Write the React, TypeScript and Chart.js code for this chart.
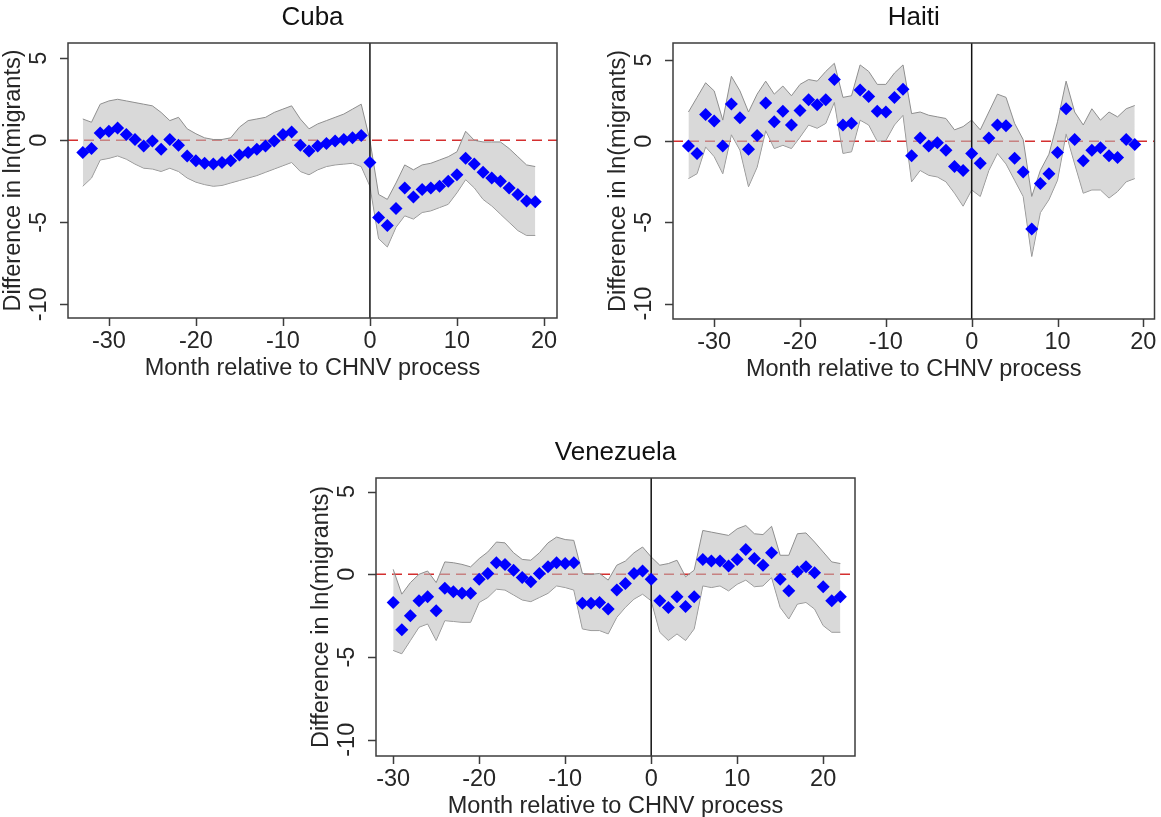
import React, { useEffect, useRef } from "react";
import { Chart, registerables } from "chart.js";

Chart.register(...registerables);

const FONT = '"Liberation Sans", Arial, Helvetica, sans-serif';

// Axis tick values shared by all panels
const xTickValues = [-30, -20, -10, 0, 10, 20];
const yTickValues = [-10, -5, 0, 5];

const xAxisTitle = "Month relative to CHNV process";
const yAxisTitle = "Difference in ln(migrants)";

// ---------- Cuba ----------
const cubaMonths = [
  -33, -32, -31, -30, -29, -28, -27, -26, -25, -24, -23, -22, -21, -20, -19, -18, -17, -16,
  -15, -14, -13, -12, -11, -10, -9, -8, -7, -6, -5, -4, -3, -2, -1, 0, 1, 2, 3, 4, 5, 6, 7,
  8, 9, 10, 11, 12, 13, 14, 15, 16, 17, 18, 19,
];
const cubaEstimate = [
  -0.75, -0.5, 0.45, 0.55, 0.75, 0.35, 0.05, -0.35, -0.05, -0.55, 0.05, -0.3, -0.95, -1.25,
  -1.4, -1.45, -1.35, -1.25, -0.9, -0.75, -0.55, -0.35, -0.05, 0.35, 0.5, -0.3, -0.65, -0.35,
  -0.2, -0.05, 0.05, 0.15, 0.3, -1.35, -4.7, -5.2, -4.15, -2.9, -3.45, -3.0, -2.9, -2.8, -2.5,
  -2.1, -1.1, -1.45, -1.95, -2.3, -2.5, -2.9, -3.3, -3.7, -3.75,
];
const cubaUpper = [
  1.3, 1.1, 2.2, 2.4, 2.5, 2.4, 2.3, 2.2, 2.1, 1.7, 1.2, 1.4, 0.7, 0.4, 0.15, 0.05, 0.05, 0.15,
  0.8, 1.2, 1.3, 1.4, 1.7, 1.9, 2.1, 1.3, 0.7, 1.0, 1.2, 1.4, 1.6, 1.9, 2.2, 0.0, -3.3, -3.6,
  -2.6, -1.5, -1.8, -1.5, -1.4, -1.2, -1.0, -0.7, 0.55, 0.0, -0.1, -0.1, -0.1, -0.5, -1.0, -1.5,
  -1.6,
];
const cubaLower = [
  -2.8, -2.3, -1.2, -1.1, -0.95, -1.15, -1.45, -1.7, -1.75, -1.9, -1.7, -1.9, -2.3, -2.55, -2.7,
  -2.8, -2.75, -2.6, -2.45, -2.3, -2.15, -1.95, -1.75, -1.55, -1.35, -1.9, -2.1, -1.8, -1.6, -1.5,
  -1.45, -1.4, -1.6, -2.8, -6.0, -6.5, -5.3, -4.6, -4.8, -4.4, -4.3, -4.1, -3.9, -3.2, -2.4, -2.9,
  -3.6, -4.0, -4.5, -5.0, -5.5, -5.8, -5.8,
];

// ---------- Haiti ----------
const haitiMonths = [
  -33, -32, -31, -30, -29, -28, -27, -26, -25, -24, -23, -22, -21, -20, -19, -18, -17, -16,
  -15, -14, -13, -12, -11, -10, -9, -8, -7, -6, -5, -4, -3, -2, -1, 0, 1, 2, 3, 4, 5, 6, 7,
  8, 9, 10, 11, 12, 13, 14, 15, 16, 17, 18, 19,
];
const haitiEstimate = [
  -0.3, -0.75, 1.65, 1.25, -0.3, 2.3, 1.45, -0.5, 0.35, 2.35, 1.2, 1.85, 1.0, 1.9, 2.55, 2.25,
  2.55, 3.8, 1.0, 1.1, 3.15, 2.75, 1.85, 1.8, 2.7, 3.2, -0.9, 0.2, -0.3, -0.1, -0.55, -1.55,
  -1.8, -0.75, -1.35, 0.2, 1.0, 0.95, -1.05, -1.9, -5.4, -2.6, -2.0, -0.7, 2.0, 0.1, -1.2,
  -0.55, -0.4, -0.9, -1.0, 0.1, -0.2,
];
const haitiUpper = [
  1.8, 2.7, 3.6, 3.1, 1.3, 4.0, 3.1, 1.8, 2.9, 3.7, 2.9, 3.4, 2.8, 3.5, 3.8, 3.7, 4.3, 4.8, 2.7,
  2.8, 4.7, 4.3, 3.5, 3.5, 4.2, 4.7, 1.7, 1.8, 1.6, 1.5, 1.4, 0.7, 0.9, 1.3, 0.7, 1.8, 2.9, 2.7,
  1.1, 0.1, -3.4, -1.8, -0.8, 1.2, 3.7, 1.8, 1.0, 2.0, 1.3, 1.8, 1.5, 2.0, 2.2,
];
const haitiLower = [
  -2.3, -2.0, -0.35, -0.95, -2.0, 0.4, -0.55, -2.8, -1.6, 0.65, -0.45, -0.25, -0.45, 0.25, 1.0,
  0.8, 1.1, 2.4, -0.75, -0.65, 1.3, 1.0, 0.0, 0.05, 1.0, 1.6, -2.5, -1.8, -2.1, -2.2, -2.5, -3.2,
  -4.0, -3.0, -3.4, -1.8, -0.75, -1.4, -2.4, -3.4, -7.1, -4.4, -3.6, -2.4, 0.45, -1.4, -3.2, -3.0,
  -3.0, -3.5, -3.1, -2.5, -2.3,
];

// ---------- Venezuela ----------
const venezuelaMonths = [
  -30, -29, -28, -27, -26, -25, -24, -23, -22, -21, -20, -19, -18, -17, -16, -15, -14, -13,
  -12, -11, -10, -9, -8, -7, -6, -5, -4, -3, -2, -1, 0, 1, 2, 3, 4, 5, 6, 7, 8, 9, 10, 11, 12,
  13, 14, 15, 16, 17, 18, 19, 20, 21, 22,
];
const venezuelaEstimate = [
  -1.7, -3.35, -2.5, -1.6, -1.35, -2.2, -0.85, -1.05, -1.15, -1.15, -0.3, 0.05, 0.7, 0.6, 0.25,
  -0.2, -0.45, 0.05, 0.45, 0.7, 0.65, 0.7, -1.75, -1.75, -1.7, -2.1, -0.95, -0.55, 0.05, 0.2,
  -0.3, -1.6, -2.0, -1.35, -1.95, -1.35, 0.9, 0.8, 0.8, 0.5, 0.9, 1.5, 0.95, 0.55, 1.3, -0.3,
  -1.0, 0.15, 0.45, 0.1, -0.75, -1.6, -1.35,
];
const venezuelaUpper = [
  0.3, -1.2, -0.5, 0.0, 0.2, -0.5, 0.75, 0.7, 0.6, 0.45, 0.95, 1.35, 1.95, 1.9, 1.3, 0.9, 0.85,
  1.3, 1.9, 2.25, 2.1, 2.05, 0.05, 0.0, 0.05, -0.35, 0.55, 0.8, 1.3, 1.65, 1.05, 0.55, 0.65,
  0.85, -0.15, 0.25, 2.65, 2.55, 2.45, 2.35, 2.75, 2.95, 2.45, 2.4, 2.9, 1.15, 1.15, 2.45, 2.5,
  1.95, 1.35, 0.75, 0.65,
];
const venezuelaLower = [
  -4.6, -4.8, -4.0, -3.2, -3.0, -4.0, -2.8, -2.85, -2.9, -2.9, -1.7, -1.4, -0.9, -0.95, -1.25,
  -1.55, -1.65, -1.4, -1.15, -0.7, -0.8, -0.95, -3.3, -3.4, -3.4, -3.6, -2.6, -2.0, -1.5, -1.2,
  -1.6, -3.5, -4.0, -3.6, -4.0, -3.3, -0.7, -0.8, -0.7, -1.0, -0.6, -0.35, -0.75, -0.7, -0.2,
  -2.0, -2.7, -1.8, -1.7, -2.1, -3.1, -3.5, -3.5,
];

type Area = { left: number; top: number; right: number; bottom: number };

type PanelProps = {
  title: string;
  months: number[];
  est: number[];
  lo: number[];
  hi: number[];
  xMin: number;
  xMax: number;
  yMin: number;
  yMax: number;
  left: number;
  top: number;
  width: number;
  height: number;
  area: Area;
};

function decorPlugin(title: string) {
  return {
    id: "panelDecor",
    afterDraw(chart: any) {
      const { ctx, chartArea, scales } = chart;
      const { left, right, top, bottom } = chartArea;
      const x = scales.x;
      const y = scales.y;
      ctx.save();

      // plot frame
      ctx.strokeStyle = "#3c3c3c";
      ctx.lineWidth = 1.5;
      ctx.strokeRect(left, top, right - left, bottom - top);

      // tick marks
      ctx.beginPath();
      for (const v of xTickValues) {
        const px = Math.round(x.getPixelForValue(v)) + 0.5;
        ctx.moveTo(px, bottom);
        ctx.lineTo(px, bottom + 8);
      }
      for (const v of yTickValues) {
        const py = Math.round(y.getPixelForValue(v)) + 0.5;
        ctx.moveTo(left - 8, py);
        ctx.lineTo(left, py);
      }
      ctx.stroke();

      ctx.fillStyle = "#262626";
      ctx.textAlign = "center";
      ctx.textBaseline = "middle";
      ctx.font = `23.5px ${FONT}`;

      // x tick labels and title
      for (const v of xTickValues) {
        ctx.fillText(String(v), x.getPixelForValue(v), bottom + 24);
      }
      ctx.fillText(xAxisTitle, (left + right) / 2, bottom + 51);

      // y tick labels (rotated)
      for (const v of yTickValues) {
        ctx.save();
        ctx.translate(left - 28, y.getPixelForValue(v));
        ctx.rotate(-Math.PI / 2);
        ctx.fillText(String(v), 0, 0);
        ctx.restore();
      }
      ctx.save();
      ctx.translate(left - 54, (top + bottom) / 2);
      ctx.rotate(-Math.PI / 2);
      ctx.fillText(yAxisTitle, 0, 0);
      ctx.restore();

      // panel title
      ctx.font = `26px ${FONT}`;
      ctx.fillStyle = "#111";
      ctx.fillText(title, (left + right) / 2, top - 25);

      ctx.restore();
    },
  };
}

function Panel(props: PanelProps) {
  const ref = useRef<HTMLCanvasElement | null>(null);

  useEffect(() => {
    const canvas = ref.current;
    if (!canvas) return;
    const { months, est, lo, hi, xMin, xMax, yMin, yMax, width, height, area } = props;

    const toXY = (vals: number[]) => months.map((m, i) => ({ x: m, y: vals[i] }));

    const chart = new Chart(canvas, {
      type: "line",
      data: {
        datasets: [
          {
            label: "estimate",
            data: toXY(est),
            showLine: false,
            pointStyle: "rectRot",
            pointRadius: 6.5,
            pointBackgroundColor: "#0000ff",
            pointBorderColor: "#0000ff",
            pointBorderWidth: 0,
          },
          {
            label: "zero month",
            data: [
              { x: 0, y: yMin },
              { x: 0, y: yMax },
            ],
            borderColor: "#111",
            borderWidth: 1.5,
            pointRadius: 0,
          },
          {
            label: "upper",
            data: toXY(hi),
            borderColor: "#8e8e8e",
            borderWidth: 1,
            pointRadius: 0,
            fill: "+1",
            backgroundColor: "rgba(190,190,190,0.58)",
          },
          {
            label: "lower",
            data: toXY(lo),
            borderColor: "#8e8e8e",
            borderWidth: 1,
            pointRadius: 0,
            fill: false,
          },
          {
            label: "zero",
            data: [
              { x: xMin, y: 0 },
              { x: xMax, y: 0 },
            ],
            borderColor: "#d42f2f",
            borderWidth: 1.6,
            borderDash: [10, 6],
            pointRadius: 0,
          },
        ],
      },
      options: {
        responsive: false,
        animation: false,
        events: [],
        layout: {
          padding: { left: 0, top: area.top, right: width - area.right, bottom: 0 },
        },
        plugins: {
          legend: { display: false },
          tooltip: { enabled: false },
        },
        scales: {
          x: {
            type: "linear",
            min: xMin,
            max: xMax,
            grid: { display: false },
            border: { display: false },
            ticks: { display: false },
            afterFit: (s: any) => {
              s.height = height - area.bottom;
            },
          },
          y: {
            type: "linear",
            min: yMin,
            max: yMax,
            grid: { display: false },
            border: { display: false },
            ticks: { display: false },
            afterFit: (s: any) => {
              s.width = area.left;
            },
          },
        },
      },
      plugins: [decorPlugin(props.title)],
    } as any);

    return () => chart.destroy();
  }, [props]);

  return (
    <canvas
      ref={ref}
      width={props.width}
      height={props.height}
      style={{
        position: "absolute",
        left: props.left,
        top: props.top,
        width: props.width,
        height: props.height,
      }}
    />
  );
}

const panels: PanelProps[] = [
  {
    title: "Cuba",
    months: cubaMonths,
    est: cubaEstimate,
    lo: cubaLower,
    hi: cubaUpper,
    xMin: -34.7,
    xMax: 21.5,
    yMin: -10.83,
    yMax: 5.93,
    left: 0,
    top: 0,
    width: 580,
    height: 400,
    area: { left: 68, top: 43, right: 557, bottom: 318 },
  },
  {
    title: "Haiti",
    months: haitiMonths,
    est: haitiEstimate,
    lo: haitiLower,
    hi: haitiUpper,
    xMin: -34.8,
    xMax: 21.3,
    yMin: -10.95,
    yMax: 6.05,
    left: 600,
    top: 0,
    width: 561,
    height: 400,
    area: { left: 73, top: 43, right: 559, bottom: 319 },
  },
  {
    title: "Venezuela",
    months: venezuelaMonths,
    est: venezuelaEstimate,
    lo: venezuelaLower,
    hi: venezuelaUpper,
    xMin: -32.0,
    xMax: 23.7,
    yMin: -10.98,
    yMax: 5.82,
    left: 300,
    top: 430,
    width: 580,
    height: 387,
    area: { left: 76, top: 48, right: 555, bottom: 326 },
  },
];

export default function App() {
  return (
    <div
      style={{
        position: "absolute",
        left: 0,
        top: 0,
        width: 1161,
        height: 817,
        background: "#fff",
        overflow: "hidden",
      }}
    >
      {panels.map((p) => (
        <Panel key={p.title} {...p} />
      ))}
    </div>
  );
}
